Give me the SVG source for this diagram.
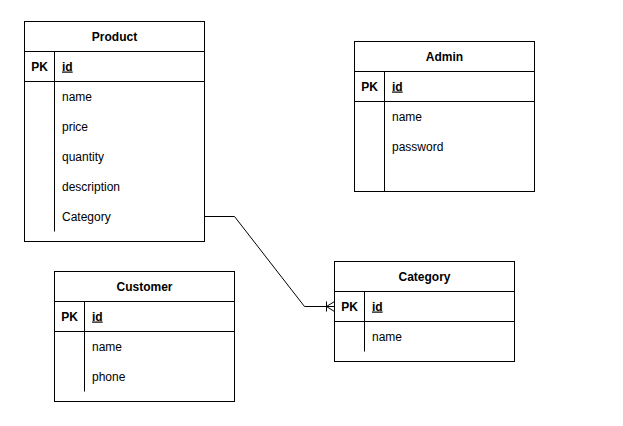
<svg xmlns="http://www.w3.org/2000/svg" width="623" height="426" viewBox="0 0 623 426">
<style>
.box{fill:#fff;stroke:#000;stroke-width:1}
.ln{fill:none;stroke:#000;stroke-width:1}
text{font-family:"Liberation Sans",Arial,sans-serif;font-size:12px;fill:#000}
.t{font-weight:bold;text-anchor:middle}
.pk{font-weight:bold;text-anchor:middle}
.id{font-weight:bold;text-decoration:underline}
</style>
<rect width="623" height="426" fill="#fff"/>
<g id="product">
<rect class="box" x="24.5" y="21.5" width="180" height="220"/>
<path class="ln" d="M24.5 51.5H204.5M24.5 81.5H204.5M54.5 51.5V81.5M54.5 81.5V231.5"/>
<text class="t" x="114.5" y="40.5">Product</text>
<text class="pk" x="39.5" y="70.5">PK</text>
<text class="id" x="62" y="70.5">id</text>
<text x="62" y="100.5">name</text>
<text x="62" y="130.5">price</text>
<text x="62" y="160.5">quantity</text>
<text x="62" y="190.5">description</text>
<text x="62" y="220.5">Category</text>
</g>
<g id="admin">
<rect class="box" x="354.5" y="41.5" width="180" height="150"/>
<path class="ln" d="M354.5 71.5H534.5M354.5 101.5H534.5M384.5 71.5V191.5"/>
<text class="t" x="444.5" y="60.5">Admin</text>
<text class="pk" x="369.5" y="90.5">PK</text>
<text class="id" x="392" y="90.5">id</text>
<text x="392" y="120.5">name</text>
<text x="392" y="150.5">password</text>
</g>
<g id="customer">
<rect class="box" x="54.5" y="271.5" width="180" height="130"/>
<path class="ln" d="M54.5 301.5H234.5M54.5 331.5H234.5M84.5 301.5V331.5M84.5 331.5V391.5"/>
<text class="t" x="144.5" y="290.5">Customer</text>
<text class="pk" x="69.5" y="320.5">PK</text>
<text class="id" x="92" y="320.5">id</text>
<text x="92" y="350.5">name</text>
<text x="92" y="380.5">phone</text>
</g>
<g id="category">
<rect class="box" x="334.5" y="261.5" width="180" height="100"/>
<path class="ln" d="M334.5 291.5H514.5M334.5 321.5H514.5M364.5 291.5V321.5M364.5 321.5V351.5"/>
<text class="t" x="424.5" y="280.5">Category</text>
<text class="pk" x="349.5" y="310.5">PK</text>
<text class="id" x="372" y="310.5">id</text>
<text x="372" y="340.5">name</text>
</g>
<g id="connectors">
<path class="ln" d="M204.5 216.5H234.5L304.5 306.5H334.5"/>
<path class="ln" d="M326.5 301.5V311.5M334.5 301.5L326.5 306.5L334.5 311.5"/>
</g>
</svg>
